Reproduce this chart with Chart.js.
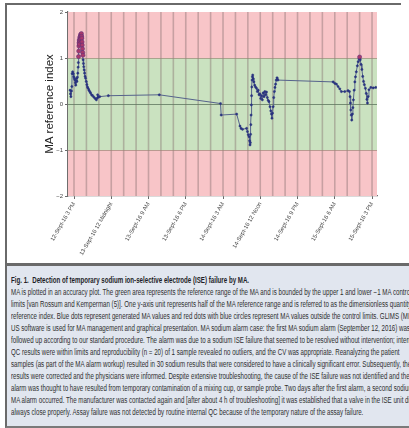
<!DOCTYPE html>
<html>
<head>
<meta charset="utf-8">
<script src="https://cdn.jsdelivr.net/npm/chart.js@4/dist/chart.umd.min.js"></script>
<style>
  html, body { margin: 0; padding: 0; background: #ffffff; }
  body { width: 409px; height: 428px; position: relative; overflow: hidden; }
  #frameTop { position: absolute; left: 5px; top: 3px; width: 396px; height: 2px; background: #6a6a6a; }
  #frameLeft { position: absolute; left: 5px; top: 3px; width: 2px; height: 424px; background: #6a6a6a; }
  #plot { position: absolute; left: 0; top: 0; }
  #caption {
    position: absolute; left: 5px; top: 263px; width: 404px; height: 160px;
    background: #e1e6ef; border-top: 3px solid #6a6a6a; border-left: 2px solid #6a6a6a;
    border-bottom: 2px solid #7a7a7a; overflow: hidden;
  }
  .ln {
    position: absolute; left: 4px; white-space: nowrap;
    font-family: "Liberation Sans", Arial, sans-serif; font-size: 8.4px; color: #2e2e2e;
    transform-origin: 0 50%; transform: scaleX(0.735); line-height: 12px; height: 12px;
  }
  .ln.title { font-weight: bold; color: #1e1e28; }
</style>
</head>
<body>
<canvas id="plot" width="409" height="262"></canvas>
<div id="frameTop"></div>
<div id="frameLeft"></div>
<div id="caption">
  <div class="ln title" style="top:8px">Fig. 1.&nbsp;&nbsp;Detection of temporary sodium ion-selective electrode (ISE) failure by MA.</div>
  <div class="ln" style="top:20px">MA is plotted in an accuracy plot. The green area represents the reference range of the MA and is bounded by the upper 1 and lower −1 MA control</div>
  <div class="ln" style="top:32px">limits [van Rossum and Kemperman (5)]. One y-axis unit represents half of the MA reference range and is referred to as the dimensionless quantity MA</div>
  <div class="ln" style="top:44px">reference index. Blue dots represent generated MA values and red dots with blue circles represent MA values outside the control limits. GLIMS (MIPS</div>
  <div class="ln" style="top:56px">US software is used for MA management and graphical presentation. MA sodium alarm case: the first MA sodium alarm (September 12, 2016) was</div>
  <div class="ln" style="top:68px">followed up according to our standard procedure. The alarm was due to a sodium ISE failure that seemed to be resolved without intervention; internal</div>
  <div class="ln" style="top:80px">QC results were within limits and reproducibility (n = 20) of 1 sample revealed no outliers, and the CV was appropriate. Reanalyzing the patient</div>
  <div class="ln" style="top:92px">samples (as part of the MA alarm workup) resulted in 30 sodium results that were considered to have a clinically significant error. Subsequently, these</div>
  <div class="ln" style="top:104px">results were corrected and the physicians were informed. Despite extensive troubleshooting, the cause of the ISE failure was not identified and the MA</div>
  <div class="ln" style="top:116px">alarm was thought to have resulted from temporary contamination of a mixing cup, or sample probe. Two days after the first alarm, a second sodium</div>
  <div class="ln" style="top:128px">MA alarm occurred. The manufacturer was contacted again and [after about 4 h of troubleshooting] it was established that a valve in the ISE unit did not</div>
  <div class="ln" style="top:140px">always close properly. Assay failure was not detected by routine internal QC because of the temporary nature of the assay failure.</div>
</div>
<script>
// Hours elapsed since 12-Sept-16 3 PM for each moving-average result
const hoursFromStart = [
  -0.95, -0.85, -0.75, -0.62, -0.52, -0.45, -0.32, -0.18, -0.05, 0.10,
  0.22, 0.32, 0.42, 0.52, 0.62, 0.72, 0.82, 0.92, 1.00, 1.05,
  1.10, 1.14, 1.18, 1.22, 1.27, 1.32, 1.37, 1.42, 1.48, 1.54,
  1.60, 1.66, 1.72, 1.78, 1.84, 1.90, 1.95, 2.00, 2.05, 2.10,
  2.15, 2.20, 2.28, 2.36, 2.46, 2.56, 2.68, 2.80, 2.95, 3.10,
  3.25, 3.40, 3.60, 3.80, 4.00, 4.25, 4.50, 4.80, 5.10, 5.40,
  5.60, 5.72, 5.90, 6.20, 8.30, 20.60, 35.40, 35.55, 39.30, 40.10,
  40.35, 40.70, 41.70, 41.90, 42.10, 42.30, 42.42, 42.52, 42.60, 42.66,
  42.72, 42.78, 42.84, 42.90, 42.96, 43.02, 43.10, 43.18, 43.30, 43.45,
  43.65, 43.85, 44.10, 44.30, 44.50, 44.70, 44.90, 45.10, 45.30, 45.50,
  45.70, 45.90, 46.10, 46.30, 46.50, 46.70, 46.90, 47.10, 47.35, 47.55,
  47.70, 47.82, 47.95, 48.10, 48.25, 48.40, 48.55, 48.70, 48.85, 49.05,
  49.25, 62.60, 63.00, 63.40, 63.80, 64.20, 64.60, 65.40, 66.20, 66.55,
  66.68, 66.78, 66.88, 66.98, 67.10, 67.25, 67.38, 67.50, 67.68, 67.85,
  68.00, 68.20, 68.45, 68.65, 68.85, 69.00, 69.15, 69.35, 69.55, 69.75,
  69.95, 70.15, 70.40, 70.60, 70.75, 70.90, 71.05, 71.25, 71.70, 72.30,
  72.90
];

// MA reference index (dimensionless) for each result
const maIndex = [
  0.30, 0.22, 0.16, 0.28, 0.38, 0.66, 0.70, 0.66, 0.59, 0.55,
  0.52, 0.46, 0.41, 0.50, 0.56, 0.49, 0.58, 0.67, 0.80, 0.90,
  1.03, 1.15, 1.26, 1.33, 1.39, 1.30, 1.37, 1.45, 1.40, 1.47,
  1.51, 1.42, 1.49, 1.53, 1.47, 1.43, 1.35, 1.28, 1.20, 1.12,
  1.06, 0.96, 0.88, 0.81, 0.74, 0.67, 0.60, 0.56, 0.49, 0.42,
  0.37, 0.34, 0.30, 0.27, 0.24, 0.20, 0.18, 0.15, 0.12, 0.09,
  0.13, 0.20, 0.15, 0.16, 0.18, 0.20, 0.01, -0.24, -0.22, -0.48,
  -0.53, -0.55, -0.53, -0.60, -0.67, -0.71, -0.80, -0.89, -0.84, -0.66,
  -0.45, -0.24, -0.02, 0.18, 0.37, 0.52, 0.59, 0.63, 0.55, 0.48,
  0.41, 0.37, 0.34, 0.27, 0.30, 0.20, 0.22, 0.12, 0.18, 0.09,
  0.24, 0.16, 0.27, 0.20, 0.26, 0.14, 0.08, 0.05, -0.06, -0.15,
  -0.22, -0.31, -0.20, -0.06, 0.14, 0.27, 0.36, 0.43, 0.52, 0.57,
  0.52, 0.48, 0.45, 0.43, 0.38, 0.33, 0.27, 0.27, 0.29, 0.27,
  0.16, 0.02, -0.13, -0.24, -0.35, -0.22, -0.08, 0.09, 0.30, 0.48,
  0.59, 0.70, 0.83, 0.92, 0.98, 1.02, 0.96, 0.86, 0.75, 0.60,
  0.49, 0.42, 0.34, 0.23, 0.10, 0.02, 0.16, 0.31, 0.36, 0.35,
  0.36
];

// Labelled x ticks (every 9 h) and their texts
const tickHours = [0, 9, 18, 27, 36, 45, 54, 63, 72];
const tickLabels = [
  '12-Sept-16 3 PM', '13-Sept-16 12 Midnight', '13-Sept-16 9 AM', '13-Sept-16 6 PM',
  '14-Sept-16 3 AM', '14-Sept-16 12 Noon', '14-Sept-16 9 PM', '15-Sept-16 6 AM', '15-Sept-16 3 PM'
];
// Vertical grid every 3 h
const gridHours = [0, 3, 6, 9, 12, 15, 18, 21, 24, 27, 30, 33, 36, 39, 42, 45, 48, 51, 54, 57, 60, 63, 66, 69, 72];
const yTicks = [-2, -1, 0, 1, 2];

// Control limits: green reference band and red out-of-control bands
const controlLimits = [-1, 1];
const axisRange = [-2, 2];

const points = hoursFromStart.map((h, i) => ({ x: h, y: maIndex[i] }));

// Background: coloured bands, the 3-hourly vertical grid and the limit lines
const bandsPlugin = {
  id: 'bands',
  beforeDatasetsDraw(chart) {
    const { ctx, chartArea: a, scales: { x, y } } = chart;
    const fillBand = (lo, hi, color) => {
      const top = y.getPixelForValue(hi), bot = y.getPixelForValue(lo);
      ctx.fillStyle = color;
      ctx.fillRect(a.left, top, a.right - a.left, bot - top);
    };
    ctx.save();
    fillBand(controlLimits[1], axisRange[1], '#f8c5c8');
    fillBand(controlLimits[0], controlLimits[1], '#cae2c0');
    fillBand(axisRange[0], controlLimits[0], '#f8c5c8');
    ctx.lineWidth = 1.6;
    ctx.strokeStyle = 'rgba(130,110,110,0.42)';
    for (const h of gridHours) {
      const px = x.getPixelForValue(h);
      ctx.beginPath();
      ctx.moveTo(px, a.top);
      ctx.lineTo(px, a.bottom);
      ctx.stroke();
    }
    const hLine = (v, color) => {
      const py = Math.round(y.getPixelForValue(v)) + 0.5;
      ctx.lineWidth = 1;
      ctx.strokeStyle = color;
      ctx.beginPath();
      ctx.moveTo(a.left, py);
      ctx.lineTo(a.right, py);
      ctx.stroke();
    };
    hLine(controlLimits[1], 'rgba(150,130,115,0.65)');
    hLine(controlLimits[0], 'rgba(150,130,115,0.65)');
    hLine(0, 'rgba(95,120,95,0.8)');
    ctx.restore();
  }
};

const outside = v => v > controlLimits[1] || v < controlLimits[0];

new Chart(document.getElementById('plot'), {
  type: 'line',
  data: {
    datasets: [{
      data: points,
      borderColor: '#56638c',
      borderWidth: 1,
      tension: 0,
      pointRadius: ctx => outside(ctx.raw.y) ? 2.1 : 1.1,
      pointBackgroundColor: ctx => outside(ctx.raw.y) ? '#a8396c' : '#2a3482',
      pointBorderColor: ctx => outside(ctx.raw.y) ? '#55307a' : '#26307a',
      pointBorderWidth: 0.5
    }]
  },
  options: {
    responsive: false,
    animation: false,
    layout: { padding: { left: 0, top: 12, right: 32, bottom: 0 } },
    plugins: { legend: { display: false }, tooltip: { enabled: false } },
    scales: {
      x: {
        type: 'linear',
        min: -1.45,
        max: 73.2,
        afterBuildTicks: s => { s.ticks = tickHours.map(v => ({ value: v })); },
        afterFit: s => { s.height = 66; },
        grid: {
          drawOnChartArea: false,
          tickLength: 3,
          tickColor: '#6a6a6a'
        },
        border: { color: '#6e6e6e', width: 1.2 },
        ticks: {
          autoSkip: false,
          minRotation: 60,
          maxRotation: 60,
          padding: 2,
          color: '#444',
          font: { family: 'Liberation Sans, Arial, sans-serif', size: 5.8 },
          callback: v => { const i = tickHours.indexOf(v); return i >= 0 ? tickLabels[i] : ''; }
        }
      },
      y: {
        min: axisRange[0],
        max: axisRange[1],
        afterBuildTicks: s => { s.ticks = yTicks.map(v => ({ value: v })); },
        afterFit: s => { s.width = 68; },
        grid: {
          drawOnChartArea: false,
          tickLength: 3,
          tickColor: '#6a6a6a'
        },
        border: { color: '#6e6e6e', width: 1.2 },
        ticks: {
          padding: 2,
          color: '#444',
          font: { family: 'Liberation Sans, Arial, sans-serif', size: 6 },
          callback: v => (v < 0 ? '\u2212' + Math.abs(v) : String(v))
        },
        title: {
          display: true,
          text: 'MA reference index',
          color: '#222',
          font: { family: 'Liberation Sans, Arial, sans-serif', size: 11.5 },
          padding: { top: 43, bottom: 0 }
        }
      }
    }
  },
  plugins: [bandsPlugin]
});
</script>
</body>
</html>
